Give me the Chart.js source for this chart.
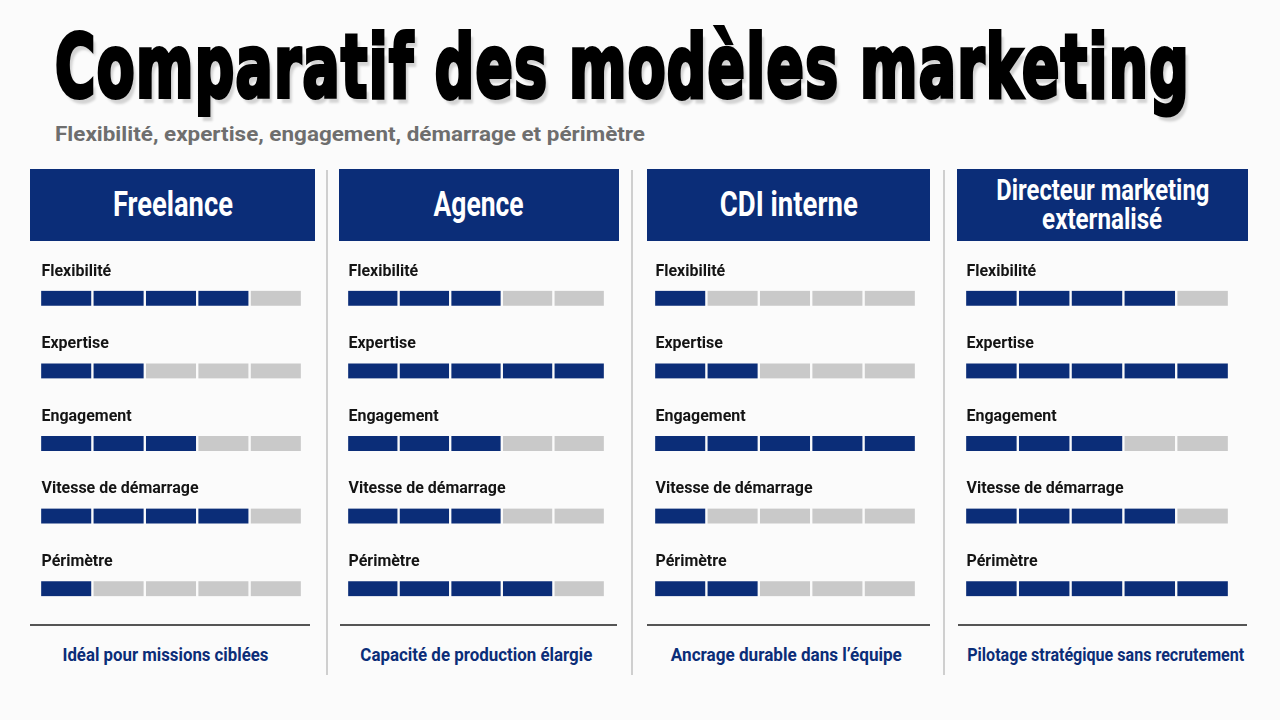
<!DOCTYPE html>
<html lang="fr">
<head>
<meta charset="utf-8">
<script src="https://cdn.jsdelivr.net/npm/chart.js@4"></script>
<style>
  body { margin: 0; width: 1280px; height: 720px; background: #fbfbfb; overflow: hidden; position: relative;
         font-family: Roboto, "DejaVu Sans Condensed", sans-serif; }
  #title { position: absolute; left: 55px; top: 23px; margin: 0; font-size: 88px; font-weight: bold; color: #000;
           font-family: "DejaVu Sans Condensed", "DejaVu Sans", sans-serif;
           white-space: nowrap; transform-origin: 0 0; -webkit-text-stroke: 4px #000; letter-spacing: 2px;
           text-shadow: 5px 6px 3px rgba(0,0,0,0.16); line-height: 1; }
  .fit { display: inline-block; white-space: nowrap; transform-origin: 50% 50%; flex: none; }
  #subtitle { position: absolute; left: 55px; top: 122px; font-size: 21px; font-weight: bold; color: #6e6e6e; white-space: nowrap; }
  #subtitle .fit { transform-origin: 0 50%; }
  .head { position: absolute; top: 169px; height: 72px; background: #0b2d78; color: #fff; font-weight: bold;
          display: flex; flex-direction: column; align-items: center; justify-content: center; text-align: center;
          font-size: 35px; line-height: 30px; }
  .head.small { font-size: 29px; line-height: 29px; }
  .divider { position: absolute; top: 170px; height: 505px; width: 2px; background: #cfcfcf; }
  .rule { position: absolute; top: 624px; height: 2px; background: #555; }
  .foot { position: absolute; top: 641px; height: 28px; line-height: 28px; color: #0b2d78; font-weight: bold; font-size: 19px;
          display: flex; justify-content: center; white-space: nowrap; }
  .chartbox { position: absolute; top: 252px; height: 373px; }
</style>
</head>
<body>
<h1 id="title">Comparatif des modèles marketing</h1>
<div id="subtitle"><span class="fit" data-w="590">Flexibilité, expertise, engagement, démarrage et périmètre</span></div>
<div id="page"></div>
<script>
const models = ["Freelance", "Agence", "CDI interne", "Directeur marketing externalisé"];
const criteria = ["Flexibilité", "Expertise", "Engagement", "Vitesse de démarrage", "Périmètre"];
const maxScore = 5;

const freelanceScores = [4, 2, 3, 4, 1];
const agenceScores = [3, 5, 3, 3, 4];
const cdiScores = [1, 2, 5, 1, 2];
const directeurScores = [4, 5, 3, 4, 5];
const scores = [freelanceScores, agenceScores, cdiScores, directeurScores];

const footers = [
  "Idéal pour missions ciblées",
  "Capacité de production élargie",
  "Ancrage durable dans l’équipe",
  "Pilotage stratégique sans recrutement"
];

const NAVY = "#0b2d78";
const GREY = "#c9c9c9";
const BG = "#fbfbfb";
const LABEL_FONT = 'bold 17px Roboto, "DejaVu Sans Condensed", sans-serif';

// column layout (px)
const headX = [[30, 315], [339, 619], [647, 930], [957, 1248]];
const barX = [[41, 300], [348, 603], [655, 914], [966, 1227]];
const ruleX = [[30, 310], [340, 617], [647, 930], [958, 1247]];
const dividerX = [327, 632, 944];
const headW = [[120], [90], [138], [213, 120]];   // target text widths in the reference
const footW = [206, 232, 231, 277];
const footC = [165, 476, 786, 1106];

// fit the title width
const title = document.getElementById("title");
const tw = title.getBoundingClientRect().width;
title.style.transform = "scaleX(" + (1135 / tw) + ")";

const page = document.getElementById("page");
function box(cls, l, w) {
  const d = document.createElement("div");
  d.className = cls;
  d.style.left = l + "px";
  if (w) d.style.width = w + "px";
  page.appendChild(d);
  return d;
}
function fitSpan(parent, text, target) {
  const s = document.createElement("span");
  s.className = "fit";
  s.textContent = text;
  s.dataset.w = target;
  parent.appendChild(s);
  return s;
}

dividerX.forEach(x => box("divider", x - 1));

const labelPlugin = {
  id: "rowLabels",
  afterDatasetsDraw(chart) {
    const ctx = chart.ctx;
    const yScale = chart.scales.y;
    ctx.save();
    ctx.font = LABEL_FONT;
    // squeeze to the narrow face of the reference
    const sx = 157 / ctx.measureText("Vitesse de démarrage").width;
    ctx.fillStyle = "#141414";
    ctx.textBaseline = "middle";
    const x0 = chart.chartArea.left + 1.5;
    chart.data.labels.forEach((lab, i) => {
      ctx.save();
      ctx.translate(x0, yScale.getPixelForValue(i) - 27);
      ctx.scale(sx, 1);
      ctx.fillText(lab, 0, 0);
      ctx.restore();
    });
    ctx.restore();
  }
};

models.forEach((name, c) => {
  const [hl, hr] = headX[c];
  const h = box("head" + (c === 3 ? " small" : ""), hl, hr - hl);
  if (c === 3) {
    fitSpan(h, "Directeur marketing", headW[c][0]);
    fitSpan(h, "externalisé", headW[c][1]);
  } else {
    fitSpan(h, name, headW[c][0]);
  }

  const [rl, rr] = ruleX[c];
  box("rule", rl, rr - rl);
  const f = box("foot", footC[c] - 150, 300);
  fitSpan(f, footers[c], footW[c]);

  const [bl, br] = barX[c];
  const wrap = box("chartbox", bl - 1.5, br - bl + 3);
  const cv = document.createElement("canvas");
  wrap.appendChild(cv);

  const colScores = scores[c];
  const datasets = [];
  for (let k = 0; k < maxScore; k++) {
    datasets.push({
      label: "Niveau " + (k + 1),
      data: criteria.map(() => 1),
      backgroundColor: colScores.map(s => (k < s ? NAVY : GREY)),
      borderColor: BG,
      borderWidth: { top: 0, bottom: 0, left: 1.5, right: 1.5 },
      borderSkipped: false,
      barThickness: 15
    });
  }

  new Chart(cv, {
    type: "bar",
    data: { labels: criteria, datasets: datasets },
    options: {
      indexAxis: "y",
      responsive: true,
      maintainAspectRatio: false,
      animation: false,
      layout: { padding: { top: 10, bottom: 0, left: 0, right: 0 } },
      plugins: { legend: { display: false }, tooltip: { enabled: false } },
      scales: {
        x: { stacked: true, min: 0, max: maxScore, display: false },
        y: { stacked: true, display: false }
      }
    },
    plugins: [labelPlugin]
  });
});

// squeeze each text to the width it has in the reference
document.querySelectorAll(".fit").forEach(s => {
  const w = s.getBoundingClientRect().width;
  s.style.transform = "scaleX(" + (Number(s.dataset.w) / w) + ")";
});
</script>
</body>
</html>
